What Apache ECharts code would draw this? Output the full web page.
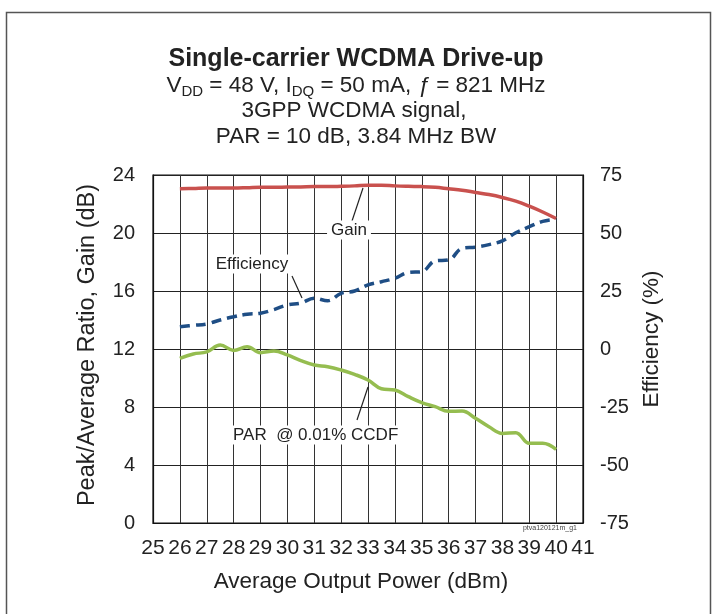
<!DOCTYPE html>
<html>
<head>
<meta charset="utf-8">
<script src="https://cdn.jsdelivr.net/npm/echarts@6/dist/echarts.min.js"></script>
<style>html,body{margin:0;padding:0;background:#fff;}#c{width:717px;height:614px;}</style>
</head>
<body>
<div id="c"></div>
<script>
// Data
const power = [26,26.5,27,27.5,28,28.5,29,29.5,30,30.5,31,31.5,32,32.5,33,33.5,34,34.5,35,35.5,36,36.5,37,37.5,38,38.5,39,39.5,40];
const gain = [23.05,23.07,23.1,23.1,23.1,23.12,23.15,23.15,23.17,23.18,23.2,23.2,23.22,23.25,23.3,23.3,23.25,23.22,23.2,23.15,23.05,22.95,22.8,22.65,22.45,22.2,21.85,21.45,21.0];
const efficiency = [9.6,10.2,10.8,12.5,13.9,15.0,15.4,17.0,19.0,19.8,21.9,20.8,24.0,25.0,27.6,29.0,30.5,33.0,33.3,38.0,38.4,43.4,43.9,45.0,46.6,50.1,52.7,55.0,55.9];
const par = [11.36,11.66,11.8,12.28,11.9,12.16,11.75,11.86,11.59,11.2,10.9,10.78,10.55,10.25,9.86,9.26,9.17,8.71,8.3,8.02,7.7,7.72,7.22,6.64,6.18,6.23,5.5,5.5,5.08];
const xTicks = {min:25, max:41, interval:1};
const leftTicks = {min:0, max:24, interval:4};
const rightTicks = {min:-75, max:75, interval:25};

const pairs = (ys) => power.map((x,i)=>[x,ys[i]]);
const FONT = '"Liberation Sans", Arial, sans-serif';
const chart = echarts.init(document.getElementById('c'), null, {renderer:'canvas'});
chart.setOption({
  animation:false,
  backgroundColor:'#fff',
  textStyle:{fontFamily:FONT},
  grid:{left:153, right:134, top:175, bottom:91, show:true, borderColor:'#111', borderWidth:1.2, containLabel:false},
  xAxis:{type:'value', min:xTicks.min, max:xTicks.max, interval:xTicks.interval,
    name:'Average Output Power (dBm)', nameLocation:'middle', nameGap:47,
    nameTextStyle:{fontSize:22.5, color:'#222', fontFamily:FONT, padding:[0,14,0,0]},
    axisLine:{show:true, lineStyle:{color:'#111', width:1.2}}, axisTick:{show:false},
    axisLabel:{fontSize:21, color:'#222', margin:15, fontFamily:FONT},
    splitLine:{show:true, lineStyle:{color:'#333', width:1}}},
  yAxis:[{type:'value', min:leftTicks.min, max:leftTicks.max, interval:leftTicks.interval,
    name:'Peak/Average Ratio, Gain (dB)', nameLocation:'middle', nameGap:53, nameRotate:90,
    nameTextStyle:{fontSize:23.5, color:'#222', fontFamily:FONT, padding:[0,0,0,8]},
    axisLine:{show:true, lineStyle:{color:'#111', width:1.2}}, axisTick:{show:false},
    axisLabel:{fontSize:20, color:'#222', margin:18, fontFamily:FONT},
    splitLine:{show:true, lineStyle:{color:'#222', width:1}}},
   {type:'value', min:rightTicks.min, max:rightTicks.max, interval:rightTicks.interval, position:'right',
    name:'Efficiency (%)', nameLocation:'middle', nameGap:48, nameRotate:90,
    nameTextStyle:{fontSize:22.5, color:'#222', fontFamily:FONT, padding:[0,0,0,20]},
    axisLine:{show:true, lineStyle:{color:'#111', width:1.2}}, axisTick:{show:false},
    axisLabel:{fontSize:20, color:'#222', margin:17, fontFamily:FONT},
    splitLine:{show:false}}],
  series:[
    {name:'Gain', type:'line', data:pairs(gain), smooth:0.4, showSymbol:false, yAxisIndex:0,
     lineStyle:{color:'#c9514e', width:3.5}, z:3},
    {name:'Efficiency', type:'line', data:pairs(efficiency), smooth:0.4, showSymbol:false, yAxisIndex:1,
     lineStyle:{color:'#1f4e85', width:3.5, type:[10,6]}, z:3},
    {name:'PAR', type:'line', data:pairs(par), smooth:0.4, showSymbol:false, yAxisIndex:0,
     lineStyle:{color:'#95bd50', width:3.5}, z:3}
  ],
  graphic:[
    {type:'rect', shape:{x:6.5, y:12.5, width:704, height:640}, style:{fill:null, stroke:'#555', lineWidth:1.5}, z:0},
    {type:'text', x:356, y:59, style:{text:'Single-carrier WCDMA Drive-up', font:'bold 25px '+FONT, fill:'#222', textAlign:'center', textVerticalAlign:'middle'}},
    {type:'text', x:356, y:86, style:{text:'{n|V}{s|DD}{n| = 48 V, I}{s|DQ}{n| = 50 mA, }{i|ƒ}{n| = 821 MHz}', textAlign:'center', textVerticalAlign:'middle',
      rich:{n:{fontSize:22.5, fontFamily:FONT, fill:'#222', lineHeight:26},
            i:{fontSize:22.5, fontFamily:FONT, fontStyle:'italic', fill:'#222', lineHeight:26},
            s:{fontSize:15, fontFamily:FONT, fill:'#222', lineHeight:26, padding:[12,0,0,0]}}}},
    {type:'text', x:354, y:111, style:{text:'3GPP WCDMA signal,', font:'22.5px '+FONT, fill:'#222', textAlign:'center', textVerticalAlign:'middle'}},
    {type:'text', x:356, y:137, style:{text:'PAR = 10 dB, 3.84 MHz BW', font:'22.5px '+FONT, fill:'#222', textAlign:'center', textVerticalAlign:'middle'}},
    {type:'line', shape:{x1:352, y1:221, x2:363, y2:188}, style:{stroke:'#222', lineWidth:1.2}, z:5},
    {type:'text', x:349, y:230, z:6, style:{text:'Gain', font:'17px '+FONT, fill:'#222', textAlign:'center', textVerticalAlign:'middle', backgroundColor:'#fff', padding:[1,4]}},
    {type:'line', shape:{x1:292, y1:276, x2:302, y2:298}, style:{stroke:'#222', lineWidth:1.2}, z:5},
    {type:'text', x:252, y:264, z:6, style:{text:'Efficiency', font:'17px '+FONT, fill:'#222', textAlign:'center', textVerticalAlign:'middle', backgroundColor:'#fff', padding:[1,3]}},
    {type:'line', shape:{x1:357, y1:420, x2:368, y2:387}, style:{stroke:'#222', lineWidth:1.2}, z:5},
    {type:'text', x:230, y:435, z:6, style:{text:'PAR  @ 0.01% CCDF', font:'17px '+FONT, fill:'#222', textAlign:'left', textVerticalAlign:'middle', backgroundColor:'#fff', padding:[1,3]}},
    {type:'text', x:577, y:528, style:{text:'ptva120121m_g1', font:'7px '+FONT, fill:'#444', textAlign:'right', textVerticalAlign:'middle'}}
  ]
});
</script>
</body>
</html>
